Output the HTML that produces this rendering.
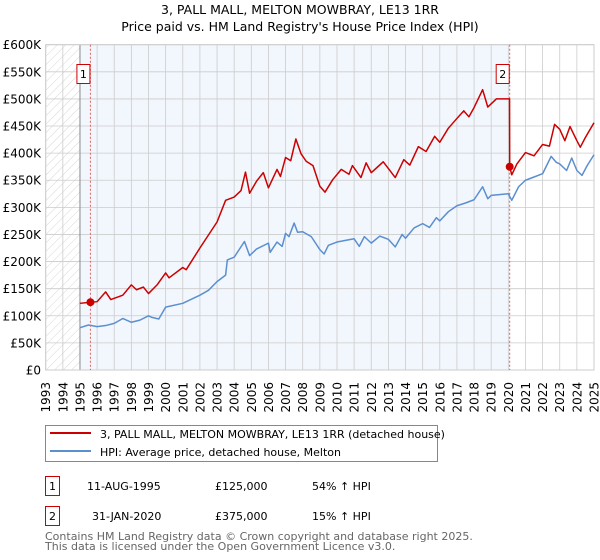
<!DOCTYPE html>
<html><head><meta charset="utf-8"><style>
body{margin:0;background:#fff;font-family:"Liberation Sans","DejaVu Sans",sans-serif}
svg{display:block}
text{font-family:"DejaVu Sans","Liberation Sans",sans-serif}
</style></head><body>
<svg id="c" width="600" height="560" viewBox="0 0 600 560">
<defs><pattern id="hatch" width="6" height="6" patternUnits="userSpaceOnUse" patternTransform="rotate(45)"><line x1="0" y1="0" x2="0" y2="6" stroke="#ccc" stroke-width="0.8"/></pattern></defs>
<text x="300" y="14" text-anchor="middle" font-size="12.5">3, PALL MALL, MELTON MOWBRAY, LE13 1RR</text>
<text x="300" y="31" text-anchor="middle" font-size="12.5">Price paid vs. HM Land Registry's House Price Index (HPI)</text>
<g id="plot"></g>
<g>
<rect x="45.5" y="425.5" width="392" height="36" fill="#fff" stroke="#888"/>
<line x1="50" y1="433" x2="91" y2="433" stroke="#cc0000" stroke-width="2"/>
<text x="100" y="438" font-size="11">3, PALL MALL, MELTON MOWBRAY, LE13 1RR (detached house)</text>
<line x1="50" y1="451" x2="91" y2="451" stroke="#5b8fd0" stroke-width="2"/>
<text x="100" y="456" font-size="11">HPI: Average price, detached house, Melton</text>
</g>
<g font-size="11">
<rect x="45.5" y="476.5" width="14" height="19" fill="#fff" stroke="#cc0000"/>
<text x="52.5" y="490" text-anchor="middle">1</text>
<text x="87" y="490">11-AUG-1995</text>
<text x="215" y="490">£125,000</text>
<text x="312" y="490">54% ↑ HPI</text>
<rect x="45.5" y="506.5" width="14" height="19" fill="#fff" stroke="#cc0000"/>
<text x="52.5" y="520" text-anchor="middle">2</text>
<text x="92" y="520">31-JAN-2020</text>
<text x="215" y="520">£375,000</text>
<text x="312" y="520">15% ↑ HPI</text>
</g>
<text x="45" y="540" font-size="11" fill="#666">Contains HM Land Registry data © Crown copyright and database right 2025.</text>
<text x="45" y="550" font-size="11" fill="#666">This data is licensed under the Open Government Licence v3.0.</text>
</svg>
<script>
const yTicks=[0,50,100,150,200,250,300,350,400,450,500,550,600];
const yTickLabels=["£0","£50K","£100K","£150K","£200K","£250K","£300K","£350K","£400K","£450K","£500K","£550K","£600K"];
const xTicks=[1993,1994,1995,1996,1997,1998,1999,2000,2001,2002,2003,2004,2005,2006,2007,2008,2009,2010,2011,2012,2013,2014,2015,2016,2017,2018,2019,2020,2021,2022,2023,2024,2025];
const hpiYears=[1995,1995.5,1996,1996.5,1997,1997.5,1998,1998.5,1999,1999.2,1999.6,2000,2001,2002,2002.5,2003,2003.5,2003.6,2004,2004.6,2004.9,2005.3,2006,2006.1,2006.5,2006.8,2007,2007.2,2007.5,2007.7,2008,2008.5,2009,2009.25,2009.5,2010,2010.5,2011,2011.3,2011.6,2012,2012.5,2013,2013.4,2013.8,2014,2014.5,2015,2015.4,2015.8,2016,2016.5,2017,2017.5,2018,2018.5,2018.8,2019,2020,2020.2,2020.6,2021,2021.5,2022,2022.5,2022.8,2023,2023.4,2023.7,2024,2024.3,2024.6,2025];
const hpiValues=[78,83,80,82,86,95,88,92,100,97,94,116,123,138,147,163,175,203,208,237,211,223,234,217,236,228,252,246,271,254,255,246,222,214,230,236,239,242,228,246,234,247,241,227,250,243,262,270,263,281,275,292,303,308,314,338,316,322,325,313,338,350,356,362,394,383,380,368,391,368,359,377,397];
const priceYears=[1995,1995.61,1996,1996.5,1996.8,1997.5,1998,1998.3,1998.7,1999,1999.5,2000,2000.2,2001,2001.2,2001.5,2002,2002.5,2003,2003.5,2004,2004.4,2004.66,2004.9,2005.3,2005.7,2006,2006.5,2006.7,2007,2007.3,2007.6,2007.9,2008.2,2008.6,2009,2009.3,2009.75,2010.25,2010.7,2010.9,2011.4,2011.7,2012,2012.7,2013.4,2013.9,2014.25,2014.75,2015.2,2015.7,2016,2016.5,2017,2017.4,2017.7,2018,2018.5,2018.8,2019.3,2020.07,2020.08,2020.2,2020.5,2021,2021.5,2022,2022.4,2022.7,2023,2023.3,2023.6,2024,2024.2,2024.5,2025];
const priceValues=[123,125,126,144,130,138,157,148,153,141,157,179,170,189,185,200,225,249,273,313,319,331,365,326,348,364,336,370,357,392,386,426,399,385,377,339,328,351,370,361,377,355,382,364,384,355,388,378,412,403,431,420,446,464,478,467,484,517,485,500,500,375,360,380,401,395,416,413,453,444,423,449,423,411,429,456];
const saleYears=[1995.61,2020.08];
const saleValues=[125,375];
const saleLabels=["1","2"];
const X0=45.7,X1=594,Y0=370,Y1=44.7;
const xs=y=>X0+(y-1993)/(2025-1993)*(X1-X0);
const ys=v=>Y0-v/600*(Y0-Y1);
const NS="http://www.w3.org/2000/svg";
const plot=document.getElementById('plot');
function mk(t,a,p){const e=document.createElementNS(NS,t);for(const k in a)e.setAttribute(k,a[k]);(p||plot).appendChild(e);return e;}
let r=mk('rect',{x:X0,y:Y1,width:xs(1995)-X0,height:Y0-Y1,fill:'url(#hatch)'});


r=mk('rect',{x:xs(1995),y:Y1,width:xs(saleYears[1])-xs(1995),height:Y0-Y1,fill:'#f2f6fd'});


xTicks.forEach(t=>{const l=mk('line',{x1:xs(t),x2:xs(t),y1:Y1,y2:Y0,stroke:'#ccc','stroke-width':0.8});


const tx=mk('text',{x:0,y:0,'font-size':12,'text-anchor':'end',transform:`translate(${xs(t)+4.5},382) rotate(-90)`});tx.textContent=t;

});
yTicks.forEach((t,i)=>{const l=mk('line',{x1:X0,x2:X1,y1:ys(t),y2:ys(t),stroke:'#ccc','stroke-width':0.8});


const tx=mk('text',{x:41,y:ys(t)+4.5,'font-size':12,'text-anchor':'end'});tx.textContent=yTickLabels[i];

});
let l=mk('line',{x1:xs(1995),x2:xs(1995),y1:Y1,y2:Y0,stroke:'#888','stroke-width':1});


r=mk('rect',{x:X0,y:Y1,width:X1-X0,height:Y0-Y1,fill:'none',stroke:'#ccc'});


saleYears.forEach((y,i)=>{const v=mk('line',{x1:xs(y),x2:xs(y),y1:Y1,y2:Y0,stroke:'#e06060','stroke-dasharray':'2,2','stroke-width':1});


const b=mk('rect',{x:xs(y)-13.5,y:64.5,width:13,height:19,fill:'#fff',stroke:'#cc0000'});


const t=mk('text',{x:xs(y)-7,y:78,'font-size':11,'text-anchor':'middle'});t.textContent=saleLabels[i];

});
let p=mk('polyline',{points:hpiYears.map((y,i)=>xs(y)+','+ys(hpiValues[i])).join(' '),fill:'none',stroke:'#5b8fd0','stroke-width':1.5,'stroke-linejoin':'round'});


p=mk('polyline',{points:priceYears.map((y,i)=>xs(y)+','+ys(priceValues[i])).join(' '),fill:'none',stroke:'#cc0000','stroke-width':1.5,'stroke-linejoin':'round'});


saleYears.forEach((y,i)=>{const c=mk('circle',{cx:xs(y),cy:ys(saleValues[i]),r:4,fill:'#cc0000'});

});
</script>
</body></html>
